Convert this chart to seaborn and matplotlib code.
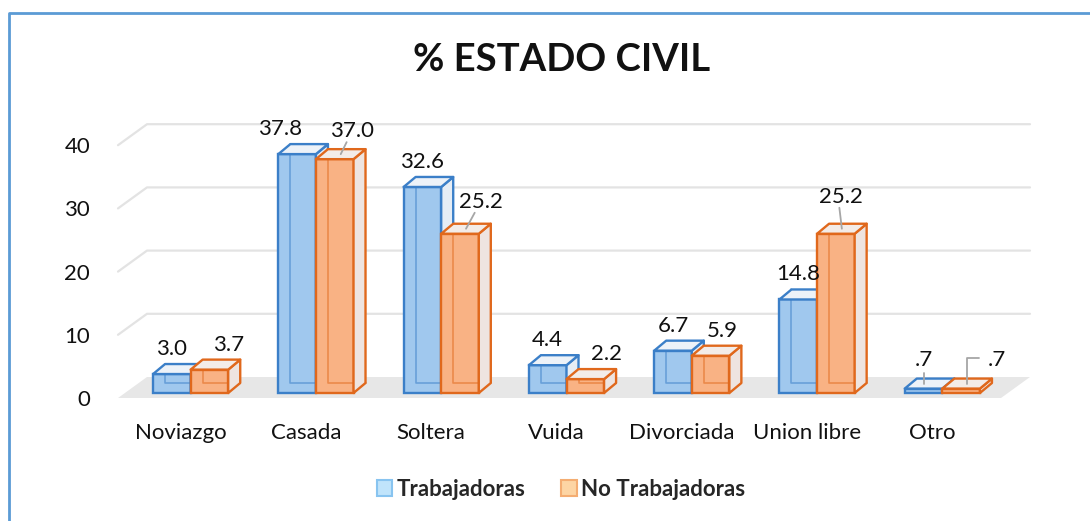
import matplotlib
matplotlib.use('Agg')
import numpy as np
import pandas as pd
import matplotlib.pyplot as plt
import seaborn as sns
from matplotlib.patches import Polygon, Patch
from matplotlib.lines import Line2D
from matplotlib.transforms import Affine2D, IdentityTransform

# datos
categorias = ['Noviazgo', 'Casada', 'Soltera', 'Vuida', 'Divorciada', 'Union libre', 'Otro']
trabajadoras = [3.0, 37.8, 32.6, 4.4, 6.7, 14.8, 0.7]
no_trabajadoras = [3.7, 37.0, 25.2, 2.2, 5.9, 25.2, 0.7]
series = ['Trabajadoras', 'No Trabajadoras']
ticks_y = [0, 10, 20, 30, 40]

df = pd.DataFrame({
    'estado': categorias * 2,
    'grupo': [series[0]] * len(categorias) + [series[1]] * len(categorias),
    'pct': trabajadoras + no_trabajadoras,
})

# colores estilo Excel 3D
cara = ['#a0c8ee', '#f9b284']
borde = ['#3b7fc8', '#e0681c']
lado = ['#e6edf5', '#eee4e0']
tapa = ['#edf2f8', '#f3ece8']
leyenda_cara = ['#c0e4fb', '#fdd5a4']
leyenda_borde = ['#88c4f0', '#f4ad72']

# desplazamiento de etiquetas (px) que Excel aplica para que no se encimen
# (serie, indice) -> (dx, dy, linea guia)
ajuste = {
    (0, 1): (-17, 0, False),
    (1, 0): (19, 0, False),
    (1, 1): (17, 3, True),
    (1, 2): (21, 7, True),
    (1, 3): (21, 0, False),
    (1, 4): (12, 0, False),
    (1, 5): (5, 12, True),
    (0, 6): (0, 4, True),
    (1, 6): (36, 4, True),
}

sns.set_theme(style='white')
plt.rcParams['font.family'] = ['Lato', 'DejaVu Sans']

W, H = 1090, 521
fig = plt.figure(figsize=(W / 100, H / 100), dpi=100)

# ejes en pixeles
ax_left, ax_right = 118, 995
y0_top = 398          # pixel (desde arriba) del valor 0
ppu = 6.32            # pixeles por unidad
ymax = 45
ax = fig.add_axes([ax_left / W, (H - y0_top) / H, (ax_right - ax_left) / W, ymax * ppu / H])

sns.barplot(data=df, x='estado', y='pct', hue='grupo', palette=cara, width=0.6,
            saturation=1, legend=False, ax=ax, zorder=3)
ax.set_xlim(-0.5, len(categorias) - 0.5)
ax.set_ylim(0, ymax)
ax.set_autoscale_on(False)
for s in ax.spines.values():
    s.set_visible(False)
ax.set_xlabel('')
ax.set_ylabel('')
ax.set_yticks(ticks_y)
ax.set_yticklabels([str(t) for t in ticks_y], fontsize=16, color='#111111')
ax.tick_params(axis='y', length=0, pad=20)
ax.tick_params(axis='x', length=0, pad=18, labelsize=16, labelcolor='#111111')
ax.patch.set_alpha(0)

fig.canvas.draw()
T = ax.transData

# profundidad del piso / pared y de las barras (pixeles)
piso = np.array([29.0, 21.0])
prof = np.array([12.0, 10.0])
desp = np.array([10.0, 5.0])

# piso
xa = T.transform((-0.5, 0))
xb = T.transform((len(categorias) - 0.5, 0)) + np.array([6, 0])
ax.add_patch(Polygon([xa, xb, xb + piso, xa + piso], closed=True, transform=IdentityTransform(),
                     facecolor='#e7e7e7', edgecolor='none', zorder=0, clip_on=False))

# lineas de la cuadricula en la pared del fondo
for t in ticks_y[1:]:
    p0 = T.transform((-0.5, t))
    p1 = p0 + piso
    p2 = np.array([xb[0], p0[1]]) + piso
    ax.add_line(Line2D([p0[0], p1[0], p2[0]], [p0[1], p1[1], p2[1]], transform=IdentityTransform(),
                       color='#e3e3e3', lw=1.6, zorder=0.5, clip_on=False))

# barras con efecto 3D
n = len(categorias)
valores = [trabajadoras, no_trabajadoras]
for k, bar in enumerate(ax.patches[:2 * n]):
    g, i = divmod(k, n)
    z = 3 + i * 2 + g
    bar.set_transform(T + Affine2D().translate(*desp))
    bar.set_edgecolor(borde[g])
    bar.set_linewidth(1.7)
    bar.set_zorder(z)
    bar.set_clip_on(False)
    x0, y0 = T.transform((bar.get_x(), 0)) + desp
    x1, y1 = T.transform((bar.get_x() + bar.get_width(), bar.get_height())) + desp
    dx, dy = prof
    # aristas ocultas
    ax.add_line(Line2D([x0 + dx, x0 + dx, x1 + dx], [y1 + dy, y0 + dy, y0 + dy],
                       transform=IdentityTransform(), color=borde[g], lw=1.2, alpha=0.55,
                       zorder=z + 0.05, clip_on=False))
    ax.add_patch(Polygon([(x1, y0), (x1, y1), (x1 + dx, y1 + dy), (x1 + dx, y0 + dy)],
                         transform=IdentityTransform(), facecolor=lado[g], edgecolor=borde[g],
                         lw=1.7, joinstyle='round', zorder=z + 0.1, clip_on=False))
    ax.add_patch(Polygon([(x0, y1), (x1, y1), (x1 + dx, y1 + dy), (x0 + dx, y1 + dy)],
                         transform=IdentityTransform(), facecolor=tapa[g], edgecolor=borde[g],
                         lw=1.7, joinstyle='round', zorder=z + 0.1, clip_on=False))

    # etiqueta de datos
    v = valores[g][i]
    txt = f'{v:.1f}'
    if txt.startswith('0'):
        txt = txt[1:]
    ex, ey, guia = ajuste.get((g, i), (0, 0, False))
    cx = (x0 + x1) / 2 + ex
    cy = y1 + 25 + ey
    ax.text(cx, cy, txt, transform=IdentityTransform(), ha='center', va='center',
            fontsize=16, color='#111111', zorder=40)
    if guia:
        tx, ty = (x0 + x1) / 2 + dx / 2, y1 + dy / 2
        if ex > 25:
            # guia con tramo horizontal
            gx = [cx - 18, cx - 30, tx]
            gy = [cy + 2, cy + 2, ty]
        elif ex == 0:
            gx = [cx, cx]
            gy = [cy - 13, ty]
        else:
            gx = [cx - ex * 0.3, tx]
            gy = [cy - 11, ty]
        ax.add_line(Line2D(gx, gy, transform=IdentityTransform(), color='#a6a6a6', lw=1.3,
                           zorder=40, clip_on=False))

# titulo
fig.text(562 / W, 1 - 60 / H, '% ESTADO CIVIL', ha='center', va='center', fontsize=27.5,
         fontweight='bold', color='#111111')

# leyenda
handles = [Patch(facecolor=leyenda_cara[j], edgecolor=leyenda_borde[j], lw=1.5, label=series[j])
           for j in range(2)]
leg = fig.legend(handles=handles, loc='center', bbox_to_anchor=(561 / W, 1 - 489 / H), ncol=2,
                 frameon=False, handlelength=0.7, handleheight=0.7, handletextpad=0.2,
                 columnspacing=1.6, prop={'weight': 'bold', 'size': 16})

# borde azul del grafico
fig.add_artist(Line2D([9 / W, 9 / W, 1], [0, 1 - 13 / H, 1 - 13 / H], transform=fig.transFigure,
                      color='#5b9bd5', lw=2))

fig.savefig('out.png', dpi=100)
